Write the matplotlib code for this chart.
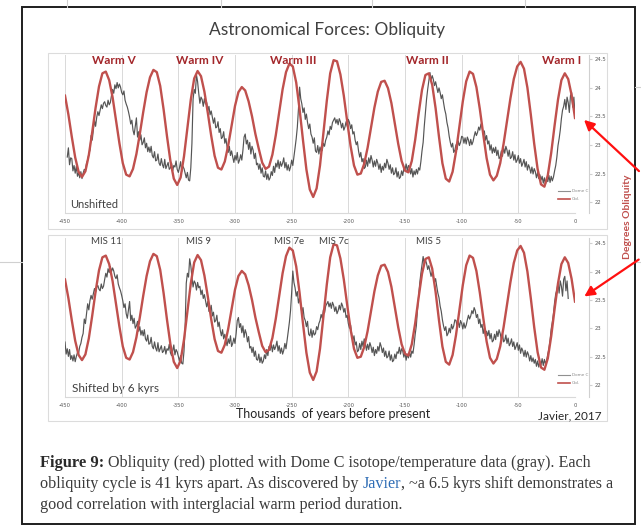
"""Astronomical Forces: Obliquity - Dome C vs obliquity, unshifted and shifted"""
import numpy as np
import matplotlib.pyplot as plt
from matplotlib.patches import Rectangle, FancyArrowPatch
from matplotlib.lines import Line2D

W, H = 641, 526

# Obliquity (degrees), sampled every 3 kyr from -450 to 0
obl_age = np.arange(-450, 1, 3)
obl_deg = [
    23.86, 23.53, 23.14, 22.78, 22.53, 22.44, 22.54, 22.82, 23.22, 23.65,
    24.02, 24.25, 24.28, 24.13, 23.83, 23.43, 23.03, 22.68, 22.48, 22.45,
    22.58, 22.84, 23.19, 23.57, 23.92, 24.18, 24.31, 24.27, 24.03, 23.62,
    23.15, 22.72, 22.41, 22.30, 22.43, 22.80, 23.30, 23.79, 24.16, 24.29,
    24.20, 23.93, 23.56, 23.16, 22.81, 22.60, 22.57, 22.71, 22.99, 23.34,
    23.68, 23.92, 24.01, 23.95, 23.76, 23.50, 23.19, 22.93, 22.69, 22.58,
    22.62, 22.83, 23.17, 23.57, 23.97, 24.27, 24.42, 24.37, 24.09, 23.62,
    23.08, 22.57, 22.22, 22.09, 22.24, 22.64, 23.20, 23.77, 24.25, 24.48,
    24.46, 24.23, 23.86, 23.41, 22.98, 22.64, 22.48, 22.50, 22.67, 22.95,
    23.30, 23.65, 23.93, 24.10, 24.12, 23.99, 23.73, 23.38, 23.02, 22.72,
    22.55, 22.52, 22.72, 23.09, 23.54, 23.96, 24.22, 24.25, 24.05, 23.64,
    23.14, 22.68, 22.41, 22.36, 22.53, 22.88, 23.32, 23.76, 24.11, 24.28,
    24.24, 24.01, 23.63, 23.19, 22.77, 22.48, 22.38, 22.46, 22.68, 23.02,
    23.42, 23.81, 24.15, 24.37, 24.45, 24.33, 24.00, 23.53, 23.02, 22.58,
    22.31, 22.27, 22.47, 22.86, 23.34, 23.79, 24.13, 24.25, 24.15, 23.87,
    23.47,
]

# Dome C temperature anomaly (deg C), 1 kyr steps
dome_age = np.arange(-448, 1)
dome_temp = [
    -6.8, -5.6, -7.8, -6.9, -7.0, -8.6, -7.9, -8.9, -8.0, -9.3,
    -8.8, -9.5, -8.7, -9.6, -8.9, -8.4, -8.5, -7.6, -7.2, -6.4,
    -5.9, -4.0, -4.6, -3.3, -2.0, -2.8, -1.6, -0.9, -1.4, -0.7,
    0.0, -0.5, 0.2, 0.4, -0.1, -0.3, 0.6, 0.0, 0.3, 1.2,
    2.0, 1.5, 2.6, 2.1, 2.9, 2.2, 2.7, 2.3, 1.6, 1.3,
    1.8, 0.6, 0.1, -0.3, -0.9, -1.6, -2.5, -2.0, -3.3, -3.9,
    -2.8, -1.7, -4.2, -3.5, -4.6, -3.9, -5.2, -4.9, -4.3, -5.6,
    -5.0, -6.1, -5.5, -6.2, -5.4, -6.6, -6.9, -6.1, -7.3, -7.2,
    -6.4, -7.6, -7.9, -7.0, -7.8, -8.2, -7.1, -8.3, -7.9, -7.5,
    -8.4, -8.2, -7.6, -8.6, -7.9, -8.1, -7.3, -8.4, -8.8, -8.2,
    -7.4, -8.7, -8.0, -8.3, -8.9, -9.5, -8.8, -9.8, -9.9, -8.2,
    -5.0, 0.7, 2.0, 1.5, 3.9, 3.0, 1.5, 0.2, 1.0, 0.7,
    -0.2, 0.8, 0.1, 0.3, -0.8, -0.2, -1.3, -0.8, -1.6, -2.4,
    -1.7, -3.0, -2.9, -2.2, -3.6, -3.1, -4.4, -4.2, -3.5, -5.0,
    -4.4, -5.5, -6.2, -5.4, -6.6, -6.0, -6.8, -7.5, -6.6, -7.2,
    -6.2, -7.6, -7.2, -6.5, -7.2, -5.9, -4.2, -3.8, -5.1, -4.6,
    -5.8, -4.9, -6.4, -5.4, -5.9, -7.0, -6.3, -7.8, -7.6, -8.4,
    -7.7, -8.9, -8.2, -9.3, -9.4, -8.6, -9.7, -9.0, -9.8, -9.5,
    -8.7, -9.2, -8.0, -8.8, -7.6, -8.1, -7.2, -8.3, -7.4, -8.0,
    -7.6, -6.9, -8.2, -7.5, -8.5, -7.8, -8.6, -8.1, -7.2, -7.9,
    -6.8, -5.6, -4.4, -2.9, -0.5, 2.3, 0.8, 0.1, -1.0, -0.4,
    -1.9, -1.2, -2.3, -3.1, -2.5, -3.8, -4.2, -5.0, -4.3, -6.0,
    -6.2, -5.3, -6.4, -5.5, -6.1, -5.9, -5.0, -5.4, -4.6, -4.2,
    -3.4, -3.9, -2.8, -3.2, -2.3, -2.0, -1.7, -2.4, -1.9, -2.6,
    -1.8, -2.2, -3.0, -2.4, -3.3, -2.9, -2.2, -2.8, -1.9, -2.3,
    -3.1, -2.6, -3.8, -3.5, -4.6, -5.2, -4.8, -6.0, -6.8, -6.2,
    -7.4, -7.0, -8.3, -8.1, -7.2, -8.0, -6.9, -7.6, -6.6, -7.2,
    -8.1, -7.3, -8.0, -7.1, -7.6, -8.4, -7.7, -8.8, -8.0, -8.5,
    -7.6, -8.2, -7.1, -7.6, -8.4, -7.8, -8.9, -8.2, -9.1, -8.9,
    -8.2, -9.4, -8.7, -9.6, -9.4, -8.6, -9.2, -8.3, -8.5, -7.7,
    -8.6, -7.9, -8.2, -9.0, -8.3, -9.4, -8.6, -9.1, -8.4, -9.0,
    -8.2, -8.5, -7.4, -6.0, -4.9, -2.8, -1.0, 0.7, 2.0, 3.1,
    4.2, 3.2, 3.8, 3.3, 2.5, 3.0, 2.3, 1.6, 2.2, 1.6,
    0.8, 1.3, 0.3, -0.6, -1.2, -2.3, -3.0, -4.1, -4.9, -5.5,
    -5.0, -6.2, -5.9, -5.2, -5.8, -4.7, -5.3, -4.9, -4.1, -4.2,
    -5.0, -4.3, -5.1, -4.2, -4.6, -5.3, -4.5, -5.2, -4.8, -4.1,
    -3.5, -4.0, -3.6, -2.9, -3.3, -2.5, -2.9, -3.8, -3.4, -4.6,
    -4.0, -5.1, -4.7, -5.9, -5.2, -6.3, -5.6, -6.2, -5.5, -6.6,
    -5.9, -7.0, -6.8, -6.0, -6.7, -5.6, -6.3, -5.4, -5.9, -6.7,
    -5.9, -7.0, -6.8, -6.1, -7.2, -6.5, -7.5, -7.2, -6.6, -7.6,
    -7.0, -8.0, -7.6, -7.1, -8.1, -7.4, -8.5, -7.8, -8.2, -8.9,
    -8.1, -9.0, -8.3, -8.7, -9.5, -8.8, -9.6, -9.1, -9.8, -9.3,
    -10.2, -9.5, -10.3, -9.6, -10.0, -9.2, -10.1, -9.3, -9.9, -9.4,
    -8.6, -7.9, -6.8, -5.3, -4.4, -3.3, -1.8, -0.7, -0.2, 0.7,
    -0.6, 1.0, 0.3, -1.0, 1.2, 1.6, -0.3, 1.0, -1.3,
]
shift_kyr = 6

xticks = [-450, -400, -350, -300, -250, -200, -150, -100, -50, 0]
obl_ticks = [22, 22.5, 23, 23.5, 24, 24.5]

warm_labels = ["Warm V", "Warm IV", "Warm III", "Warm II", "Warm I"]
warm_age = [-407, -331, -249, -130, -12]
mis_labels = ["MIS 11", "MIS 9", "MIS 7e", "MIS 7c", "MIS 5"]
mis_age = [-413, -332, -252, -213, -129]

RED = '#c0504d'
GRAY = '#555555'
LABEL_RED = '#a3262a'
FONT = 'Lato'

fig = plt.figure(figsize=(W / 100, H / 100), dpi=100)
fig.patch.set_facecolor('white')

# pixel canvas for the page decorations
bg = fig.add_axes([0, 0, 1, 1], zorder=-1)
bg.set_xlim(0, W)
bg.set_ylim(H, 0)
bg.axis('off')
for x in [67, 221, 372, 525]:
    bg.plot([x, x], [0, 7], color='#d0d0d0', lw=0.8)
bg.plot([0, 22], [262, 262], color='#d0d0d0', lw=0.8)
bg.plot([635, 641], [262, 262], color='#d0d0d0', lw=0.8)
bg.plot([635, 641], [87, 87], color='#d0d0d0', lw=0.8)
bg.add_patch(Rectangle((22, 7), 613, 517, facecolor='white', edgecolor='#1e1e1e', lw=1.4))
bg.add_patch(Rectangle((48, 53), 559, 176, facecolor='none', edgecolor='#dcdcdc', lw=0.8))
bg.add_patch(Rectangle((48, 235), 559, 186, facecolor='none', edgecolor='#dcdcdc', lw=0.8))

bg.text(327, 30, "Astronomical Forces: Obliquity", ha='center', va='center',
        fontsize=12.5, color='#404040', family=FONT)
bg.text(70, 205, "Unshifted", ha='left', va='center', fontsize=8, color='#404040', family=FONT)
bg.text(72, 388, "Shifted by 6 kyrs", ha='left', va='center', fontsize=8.5, color='#404040', family=FONT)
bg.text(333, 414, "Thousands  of years before present", ha='center', va='center',
        fontsize=9, color='#262626', family=FONT)
bg.text(602, 416, "Javier, 2017", ha='right', va='center', fontsize=8.5, color='#262626', family=FONT)
bg.text(627, 217, "Degrees Obliquity", ha='center', va='center', rotation=90,
        fontsize=7.5, color='#c0504d', fontweight='bold', family=FONT)


def draw_panel(rect_px, obl_lim, labels, label_age, gray_shift):
    left, top, right, bottom = rect_px
    ax = fig.add_axes([left / W, 1 - bottom / H, (right - left) / W, (bottom - top) / H])
    axr = ax.twinx()
    # gray curve on hidden left axis, scaled so 0 C sits near 23.7 deg
    t_lim = ((obl_lim[0] - 23.70) * 7.45, (obl_lim[1] - 23.70) * 7.45)
    ages = dome_age - gray_shift
    ax.plot(ages, dome_temp, color=GRAY, lw=0.85)
    ax.set_ylim(*t_lim)
    ax.set_xlim(-450, 0)
    ax.patch.set_visible(False)
    for s in ['left', 'top', 'right']:
        ax.spines[s].set_visible(False)
    ax.spines['bottom'].set_color('#d9d9d9')
    ax.set_yticks([])
    ax.set_xticks(xticks)
    ax.set_xticklabels([str(t) for t in xticks])
    ax.tick_params(axis='x', length=0, labelsize=3.8, labelcolor='#595959', pad=4)
    ax.grid(axis='x', color='#d9d9d9', lw=0.7)

    axr.plot(obl_age, obl_deg, color=RED, lw=1.7)
    axr.set_ylim(*obl_lim)
    axr.set_xlim(-450, 0)
    for s in ['left', 'top', 'bottom']:
        axr.spines[s].set_visible(False)
    axr.spines['right'].set_position(('outward', 10))
    axr.spines['right'].set_color('#d0d0d0')
    axr.set_yticks(obl_ticks)
    axr.set_yticklabels([f"{t:g}" for t in obl_ticks])
    axr.tick_params(axis='y', length=2.5, color='#d0d0d0', labelsize=3.8, labelcolor='#595959', pad=2)

    for lab, age in zip(labels, label_age):
        if lab.startswith("Warm"):
            axr.text(age, 24.48, lab, ha='center', va='center', fontsize=8.5,
                     fontweight='bold', color=LABEL_RED, family=FONT)
        else:
            axr.text(age, 24.52, lab, ha='center', va='center', fontsize=7,
                     color='#404040', family=FONT)

    handles = [Line2D([], [], color='#909090', lw=0.8), Line2D([], [], color=RED, lw=1.2)]
    axr.legend(handles, ["Dome C", "Obl."], loc='lower right', bbox_to_anchor=(1.03, 0.06),
               fontsize=3, frameon=False, handlelength=3, labelspacing=1.0,
               handletextpad=0.4, labelcolor='#888888', borderpad=0)
    return ax, axr


draw_panel((65, 55, 575, 213), (21.81, 24.57), warm_labels, warm_age, 0)
draw_panel((65, 238, 575, 397), (21.79, 24.59), mis_labels, mis_age, shift_kyr)

# red pointer arrows
for tail, head in [((641, 173), (582, 118)), ((641, 258), (582, 298))]:
    arr = FancyArrowPatch(tail, head, arrowstyle='-|>', mutation_scale=15, color='#ff1010',
                          lw=1.6, transform=bg.transData, zorder=10)
    fig.add_artist(arr)

# caption
CAP = 'Liberation Serif'
cs = 11.6
t1 = bg.text(40, 463, "Figure 9:", ha='left', va='center', fontsize=cs + 0.3, fontweight='bold',
             color='#2a2a2a', family=CAP)
bg.annotate(" Obliquity (red) plotted with Dome C isotope/temperature data (gray). Each",
            xy=(1, 0.5), xycoords=t1, ha='left', va='center', fontsize=cs,
            color='#3a3a3a', family=CAP)
t2 = bg.text(40, 484, "obliquity cycle is 41 kyrs apart. As discovered by ", ha='left', va='center',
             fontsize=cs, color='#3a3a3a', family=CAP)
t3 = bg.annotate("Javier", xy=(1, 0.5), xycoords=t2, ha='left', va='center', fontsize=cs,
                 color='#2f6db5', family=CAP)
bg.annotate(", ~a 6.5 kyrs shift demonstrates a", xy=(1, 0.5), xycoords=t3, ha='left',
            va='center', fontsize=cs, color='#3a3a3a', family=CAP)
bg.text(40, 505, "good correlation with interglacial warm period duration.", ha='left',
        va='center', fontsize=cs, color='#3a3a3a', family=CAP)

fig.savefig('out.png', dpi=100)
